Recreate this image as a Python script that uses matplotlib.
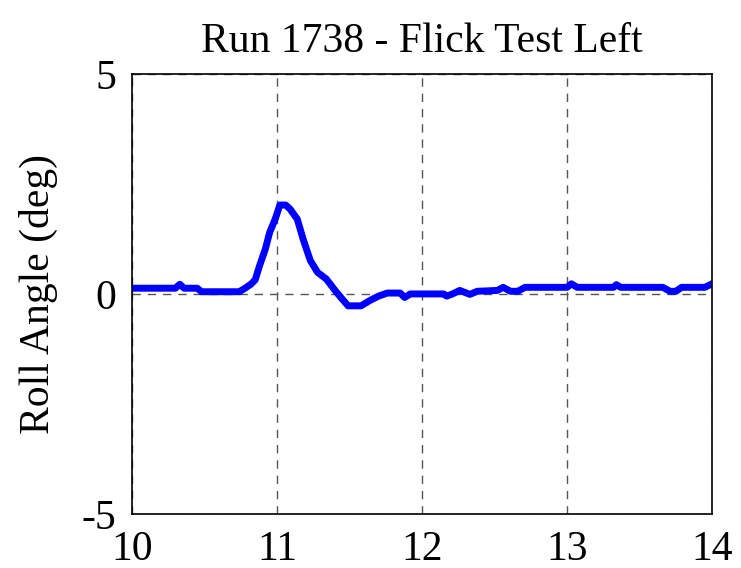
import numpy as np
import matplotlib.pyplot as plt

plt.rcParams['font.family'] = ['Liberation Serif', 'DejaVu Serif']
plt.rcParams['axes.unicode_minus'] = False

# roll angle trace (time s, angle deg)
t = [10.00, 10.30, 10.33, 10.36, 10.45, 10.48, 10.74, 10.78, 10.82, 10.85,
     10.88, 10.92, 10.95, 10.99, 11.02, 11.06, 11.09, 11.14, 11.18, 11.23,
     11.28, 11.34, 11.41, 11.49, 11.58, 11.64, 11.70, 11.76, 11.85, 11.88,
     11.92, 12.15, 12.17, 12.21, 12.26, 12.33, 12.38, 12.52, 12.56, 12.61,
     12.66, 12.71, 13.00, 13.03, 13.07, 13.32, 13.34, 13.37, 13.66, 13.71,
     13.75, 13.79, 13.95, 14.00]
roll = [0.13, 0.13, 0.22, 0.13, 0.13, 0.05, 0.05, 0.13, 0.22, 0.32,
        0.64, 1.02, 1.40, 1.72, 2.02, 2.02, 1.93, 1.70, 1.25, 0.76,
        0.49, 0.34, 0.04, -0.27, -0.27, -0.15, -0.05, 0.02, 0.02, -0.08,
        0.00, 0.00, -0.05, 0.00, 0.08, -0.01, 0.06, 0.08, 0.15, 0.06,
        0.06, 0.15, 0.15, 0.23, 0.15, 0.15, 0.21, 0.15, 0.15, 0.06,
        0.06, 0.15, 0.15, 0.23]

fig = plt.figure(figsize=(7.41, 5.68), dpi=100)
ax = fig.add_axes([0.178, 0.095, 0.783, 0.775])
ax.plot(t, roll, color=(0, 0, 1), lw=5.0, solid_joinstyle='round', solid_capstyle='round')
ax.set_xlim(10, 14)
ax.set_ylim(-5, 5)
ax.set_xticks([10, 11, 12, 13, 14])
ax.set_yticks([-5, 0, 5])
ax.grid(True, color='#555555', linestyle=(0, (6, 5)), linewidth=1.0)
ax.tick_params(labelsize=30, direction='in', length=0)
ax.tick_params(axis='x', pad=12)
ax.tick_params(axis='y', pad=11)
for s in ax.spines.values():
    s.set_linewidth(1.2)
ax.set_title('Run 1738 - Flick Test Left', fontsize=30, pad=16)
ax.set_ylabel('Roll Angle (deg)', fontsize=30, labelpad=17)
fig.savefig('out.png', dpi=100)
